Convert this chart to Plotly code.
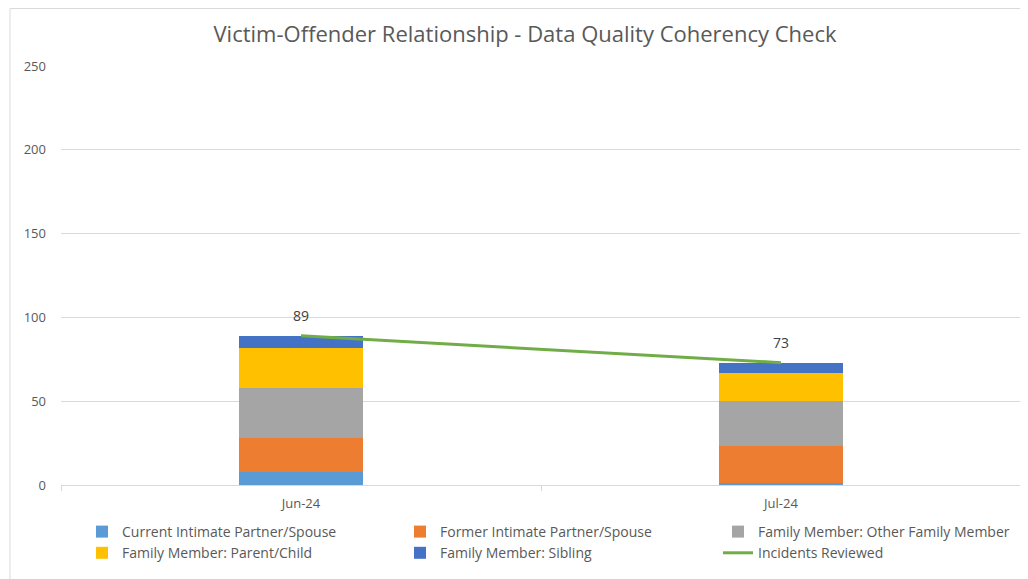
import plotly.graph_objects as go

months = ["Jun-24", "Jul-24"]
current_ip = [8, 1]
former_ip = [20, 22]
other_family = [30, 27]
parent_child = [24, 17]
sibling = [7, 6]
incidents_reviewed = [89, 73]

series = [
    ("Current Intimate Partner/Spouse", current_ip, "#5B9BD5"),
    ("Former Intimate Partner/Spouse", former_ip, "#ED7D31"),
    ("Family Member: Other Family Member", other_family, "#A5A5A5"),
    ("Family Member: Parent/Child", parent_child, "#FFC000"),
    ("Family Member: Sibling", sibling, "#4472C4"),
]

FONT = "Open Sans, Roboto, sans-serif"
GREY = "#595959"

fig = go.Figure()
for name, vals, col in series:
    fig.add_trace(go.Bar(x=months, y=vals, name=name, marker_color=col,
                         marker_line_width=0, width=0.26))
fig.add_trace(go.Scatter(x=months, y=incidents_reviewed, name="Incidents Reviewed",
                         mode="lines", line=dict(color="#70AD47", width=3)))

for m, v in zip(months, incidents_reviewed):
    fig.add_annotation(x=m, y=v, text=str(v), showarrow=False, yanchor="bottom",
                       yshift=9, font=dict(size=14, color="#404040", family=FONT))

# page has an 8px body margin, so figure coords = page coords - 8
OFF = 8
W, H = 1028 - OFF, 579 - OFF
L, R, T, B = 61 - OFF, 7, 66 - OFF, 94
pw, ph = W - L - R, H - T - B

fig.update_layout(
    width=W, height=H,
    barmode="stack",
    paper_bgcolor="white", plot_bgcolor="white",
    margin=dict(l=L, r=R, t=T, b=B, autoexpand=False),
    font=dict(family=FONT, color=GREY, size=13),
    title=dict(text="Victim-Offender Relationship - Data Quality Coherency Check",
               x=(525 - OFF) / W, xanchor="center", y=1 - (34 - OFF) / H, yanchor="middle",
               font=dict(size=22, color=GREY, family=FONT)),
    xaxis=dict(showgrid=False, showline=True, linecolor="#D9D9D9", linewidth=1,
               ticks="outside", tickson="boundaries", ticklen=5, tickcolor="#D9D9D9",
               ticklabelstandoff=6, automargin=False,
               tickfont=dict(size=13, color=GREY), fixedrange=True),
    yaxis=dict(range=[0, 250], dtick=50, showgrid=True, gridcolor="#D9D9D9",
               gridwidth=1, zeroline=False, showline=False, automargin=False,
               ticklabelstandoff=14, tickfont=dict(size=13, color=GREY)),
    legend=dict(orientation="h", xref="container", yref="container",
                x=(82 - OFF) / W, xanchor="left",
                y=1 - (516 - OFF) / H, yanchor="top",
                entrywidth=273, entrywidthmode="pixels",
                font=dict(size=14, color=GREY, family=FONT),
                traceorder="normal", itemwidth=30, tracegroupgap=0),
    shapes=[dict(type="rect", xref="paper", yref="paper",
                 x0=(10 - 61) / pw, x1=1.2, y0=-0.5, y1=(ph + 0.5 - 0) / ph + (T - 0.5) / ph - 0.5 / ph,
                 line=dict(color="#D9D9D9", width=1), fillcolor="rgba(0,0,0,0)",
                 layer="below")],
    showlegend=True,
)

fig.write_html("out.html")
